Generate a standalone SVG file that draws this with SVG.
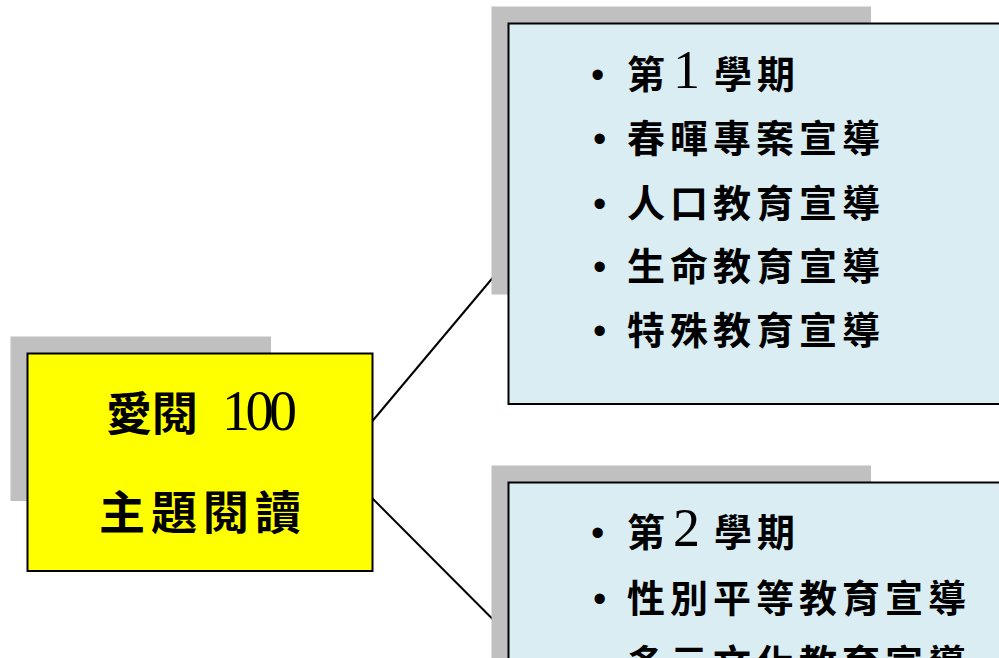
<svg xmlns="http://www.w3.org/2000/svg" width="999" height="658" viewBox="0 0 999 658">
<style>
.shadow{fill:#c0c0c0;}
.box{stroke:#000;stroke-width:2;}
.main{fill:#ffff00;}
.blue{fill:#daedf3;}
.cjk{font-family:"Noto Sans CJK TC","Noto Sans CJK SC",sans-serif;fill:#000;}
.item{font-size:38px;letter-spacing:5px;font-weight:bold;}
.dig{font-family:"Liberation Serif",serif;}
.bul{font-family:"Liberation Sans",sans-serif;font-weight:normal;letter-spacing:0;}
.conn{stroke:#000;stroke-width:2;fill:none;}
</style>
<rect width="999" height="658" fill="#fff"/>
<g id="connectors">
<line class="conn" x1="372" y1="421.5" x2="508.5" y2="259"/>
<line class="conn" x1="372" y1="498" x2="508.5" y2="635"/>
</g>
<g id="node-main">
<rect class="shadow" x="10.5" y="336.5" width="260.5" height="164.5"/>
<rect class="box main" x="27.5" y="353.5" width="345" height="217.5"/>
<text class="cjk" font-size="46" font-weight="bold" y="430"><tspan x="106">愛閱</tspan><tspan class="dig" x="222" font-size="56" font-weight="normal" textLength="75">100</tspan></text>
<text class="cjk" font-size="46" font-weight="bold" letter-spacing="6" x="99" y="529">主題閱讀</text>
</g>
<g id="node-term1">
<rect class="shadow" x="491.5" y="6.5" width="379.5" height="288"/>
<rect class="box blue" x="508.5" y="23.5" width="500" height="380.5"/>
<text class="cjk item" y="88"><tspan class="bul" x="591">•</tspan><tspan x="627">第</tspan><tspan class="dig" x="673" font-size="54" font-weight="normal">1</tspan><tspan x="714">學期</tspan></text>
<text class="cjk item" y="152"><tspan class="bul" x="593">•</tspan><tspan x="627">春暉專案宣導</tspan></text>
<text class="cjk item" y="217"><tspan class="bul" x="593">•</tspan><tspan x="627">人口教育宣導</tspan></text>
<text class="cjk item" y="280"><tspan class="bul" x="593">•</tspan><tspan x="627">生命教育宣導</tspan></text>
<text class="cjk item" y="344"><tspan class="bul" x="593">•</tspan><tspan x="627">特殊教育宣導</tspan></text>
</g>
<g id="node-term2">
<rect class="shadow" x="491.5" y="465.5" width="379.5" height="200"/>
<rect class="box blue" x="508.5" y="482.5" width="500" height="200"/>
<text class="cjk item" y="546"><tspan class="bul" x="591">•</tspan><tspan x="627">第</tspan><tspan class="dig" x="673" font-size="54" font-weight="normal">2</tspan><tspan x="714">學期</tspan></text>
<text class="cjk item" y="612"><tspan class="bul" x="593">•</tspan><tspan x="627">性別平等教育宣導</tspan></text>
<text class="cjk item" y="677"><tspan class="bul" x="593">•</tspan><tspan x="627">多元文化教育宣導</tspan></text>
</g>
</svg>
